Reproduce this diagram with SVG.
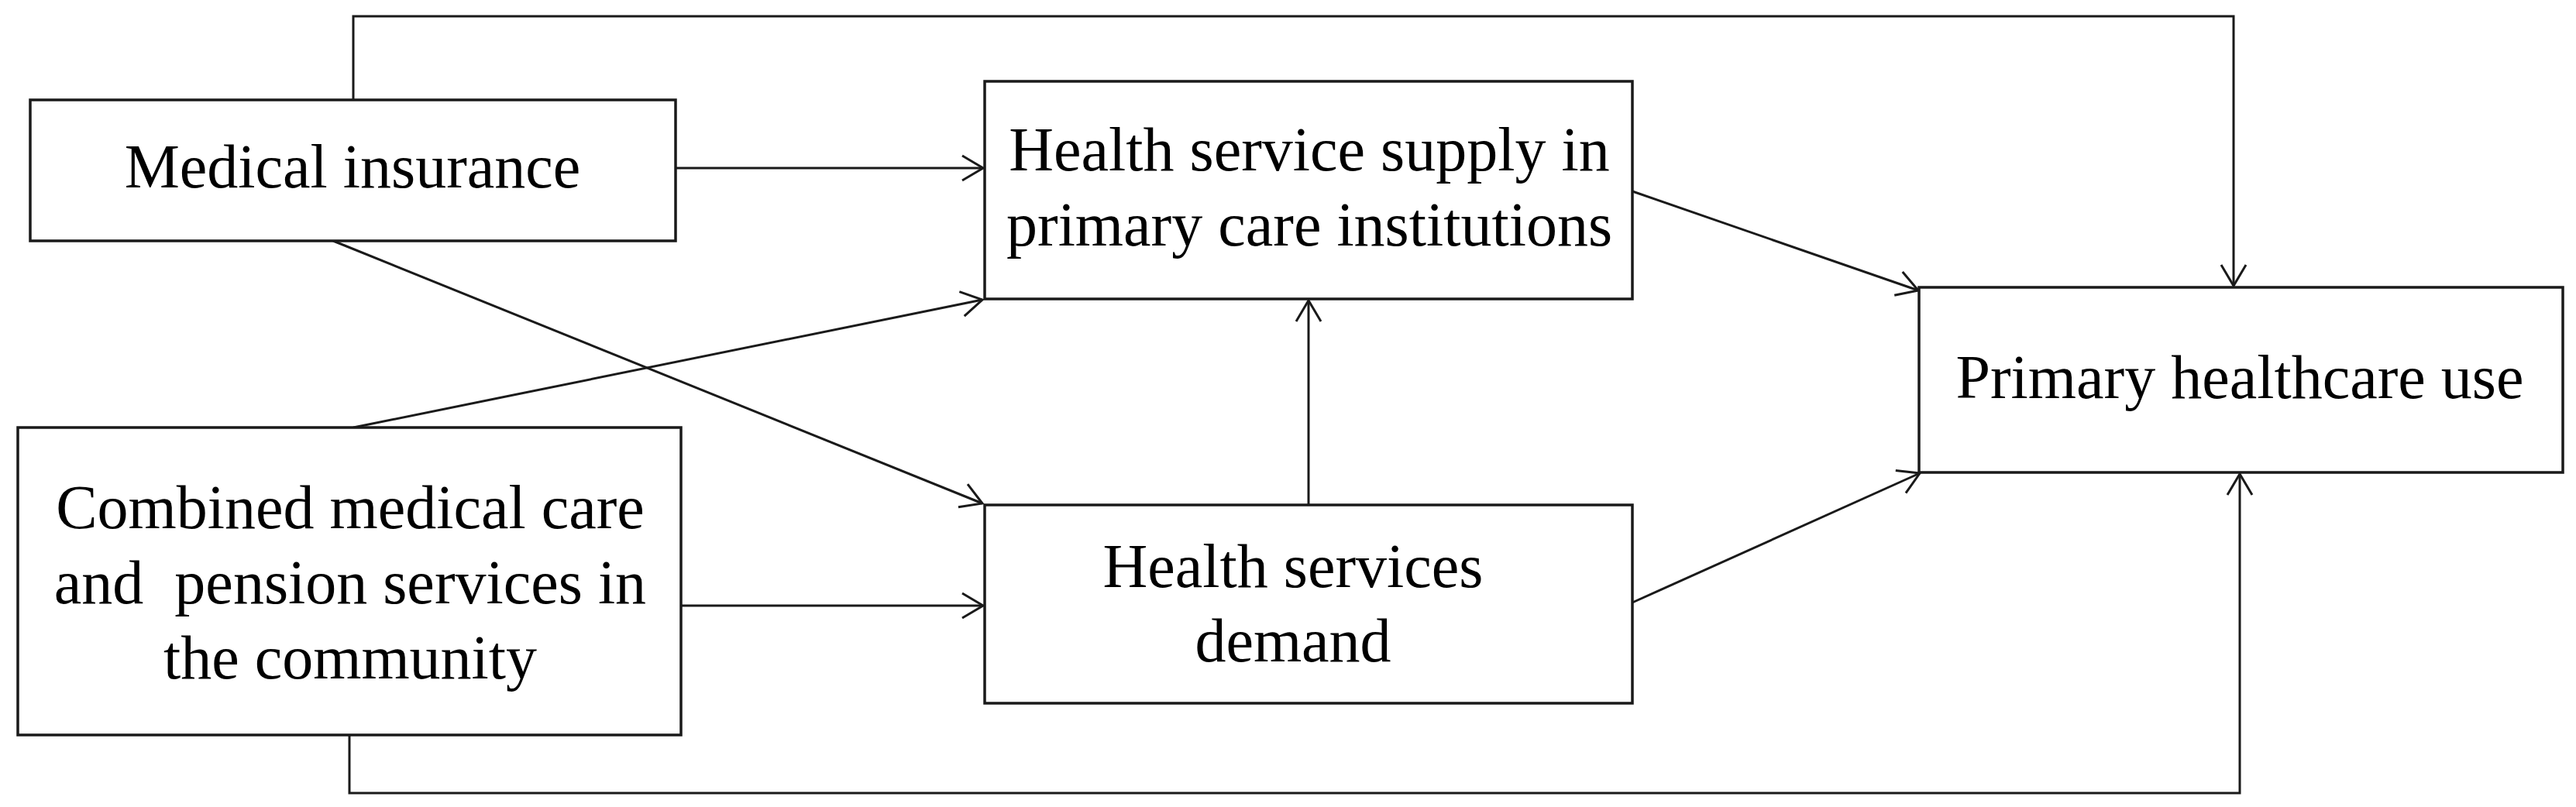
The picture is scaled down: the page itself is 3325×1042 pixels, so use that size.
<svg xmlns="http://www.w3.org/2000/svg" width="3325" height="1042" viewBox="0 0 3325 1042">
<style>
.box{fill:#fff;stroke:#1a1a1a;stroke-width:3.5}
.lbl{font-family:"Liberation Serif","Times New Roman",serif;font-size:80px;fill:#000;text-anchor:middle;white-space:pre}
.con{fill:none;stroke:#1a1a1a;stroke-width:3;marker-end:url(#arr)}
</style>
<defs>
<marker id="arr" markerUnits="userSpaceOnUse" markerWidth="32" markerHeight="36" viewBox="0 0 32 36" refX="29" refY="18" orient="auto">
<path d="M2,2 L29,18 L2,34" fill="none" stroke="#1a1a1a" stroke-width="3"/>
</marker>
</defs>
<rect width="3325" height="1042" fill="#fff"/>
<g id="connectors">
<path class="con" d="M456,129 V21 H2883 V369"/>
<path class="con" d="M872,217 H1269"/>
<path class="con" d="M430,311 L1268,650"/>
<path class="con" d="M456,552 L1268,387"/>
<path class="con" d="M879,782 H1269"/>
<path class="con" d="M1689,652 V388"/>
<path class="con" d="M2107,247 L2476,375"/>
<path class="con" d="M2107,778 L2478,611"/>
<path class="con" d="M451,949 V1024 H2891 V612"/>
</g>
<g id="node-medical-insurance">
<rect class="box" x="39" y="129" width="833" height="182"/>
<text class="lbl" x="455" y="242">Medical insurance</text>
</g>
<g id="node-health-service-supply">
<rect class="box" x="1271" y="105" width="836" height="281"/>
<text class="lbl" x="1690" y="220">Health service supply in</text>
<text class="lbl" x="1690" y="317">primary care institutions</text>
</g>
<g id="node-combined-care">
<rect class="box" x="23" y="552" width="856" height="397"/>
<text class="lbl" x="452" y="682">Combined medical care</text>
<text class="lbl" x="452" y="779">and  pension services in</text>
<text class="lbl" x="452" y="876">the community</text>
</g>
<g id="node-health-services-demand">
<rect class="box" x="1271" y="652" width="836" height="256"/>
<text class="lbl" x="1669" y="758">Health services</text>
<text class="lbl" x="1669" y="854">demand</text>
</g>
<g id="node-primary-healthcare-use">
<rect class="box" x="2477" y="371" width="831" height="239"/>
<text class="lbl" x="2891" y="514">Primary healthcare use</text>
</g>
</svg>
